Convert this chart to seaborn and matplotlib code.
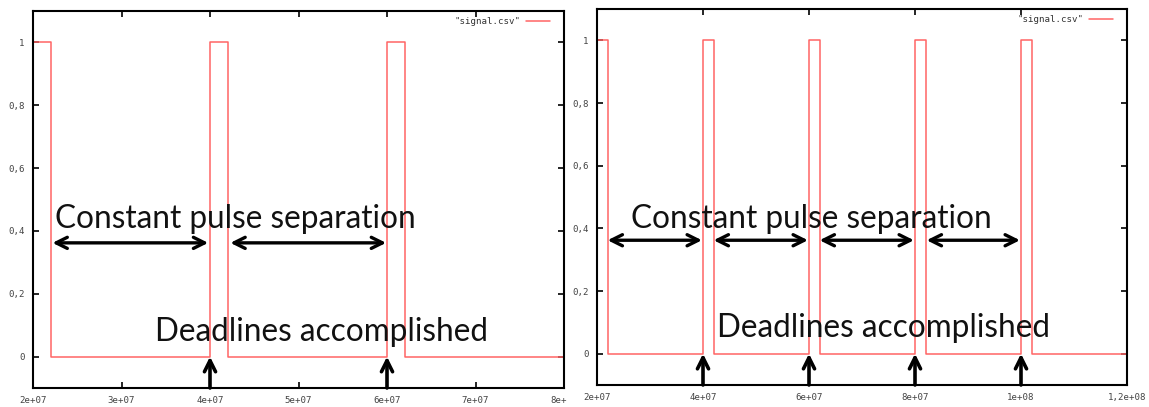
import numpy as np
import pandas as pd
import matplotlib
matplotlib.use("Agg")
import matplotlib.pyplot as plt
from matplotlib.transforms import Bbox, TransformedBbox
import seaborn as sns

# ---- data ----
left_t = [2e7, 2.2e7, 4e7, 4.2e7, 6e7, 6.2e7, 8e7]
left_v = [1, 0, 1, 0, 1, 0, 0]
right_t = [2e7, 2.2e7, 4e7, 4.2e7, 6e7, 6.2e7, 8e7, 8.2e7, 1e8, 1.02e8, 1.2e8]
right_v = [1, 0, 1, 0, 1, 0, 1, 0, 1, 0, 0]

left_xticks = [2e7, 3e7, 4e7, 5e7, 6e7, 7e7, 8e7]
left_xlabels = ["2e+07", "3e+07", "4e+07", "5e+07", "6e+07", "7e+07", "8e+07"]
right_xticks = [2e7, 4e7, 6e7, 8e7, 1e8, 1.2e8]
right_xlabels = ["2e+07", "4e+07", "6e+07", "8e+07", "1e+08", "1,2e+08"]
yticks = [0, 0.2, 0.4, 0.6, 0.8, 1.0]
ylabels = ["0", "0,2", "0,4", "0,6", "0,8", "1"]

left_deadlines = [4e7, 6e7]
right_deadlines = [4e7, 6e7, 8e7, 1e8]
left_gaps = [(2.22e7, 3.98e7), (4.23e7, 5.99e7)]
right_gaps = [(2.2e7, 3.98e7), (4.2e7, 5.98e7), (6.2e7, 7.98e7), (8.22e7, 9.98e7)]

legend_label = '"signal.csv"'
text_sep = "Constant pulse separation"
text_dead = "Deadlines accomplished"

sns.set_theme(style="ticks")
plt.rcParams["font.family"] = ["Lato", "DejaVu Sans"]

W, H = 1149, 407
fig = plt.figure(figsize=(W / 100, H / 100), dpi=100)

def px_axes(l, t, r, b):
    return fig.add_axes([l / W, 1 - b / H, (r - l) / W, (b - t) / H])

ax1 = px_axes(33, 11, 564, 388)
ax2 = px_axes(597, 9, 1127, 385)

red = "#ff6464"
mono = dict(family="DejaVu Sans Mono", size=6.6)

panels = [
    (ax1, left_t, left_v, left_xticks, left_xlabels, left_deadlines, left_gaps,
     (2.25e7, 0.41), (3.38e7, 0.05)),
    (ax2, right_t, right_v, right_xticks, right_xlabels, right_deadlines, right_gaps,
     (2.64e7, 0.40), (4.27e7, 0.054)),
]

for ax, t, v, xt, xl, dl, gaps, sep_pos, dead_pos in panels:
    df = pd.DataFrame({"t": t, "v": v})
    sns.lineplot(data=df, x="t", y="v", ax=ax, color=red, lw=1.1,
                 drawstyle="steps-post", label=legend_label, estimator=None)
    ax.set_xlim(xt[0], xt[-1])
    ax.set_ylim(-0.1, 1.1)
    ax.set_xticks(xt)
    ax.set_xticklabels(xl, fontdict=mono, color="#444444")
    ax.set_yticks(yticks)
    ax.set_yticklabels(ylabels, fontdict=mono, color="#444444")
    ax.set_xlabel("")
    ax.set_ylabel("")
    ax.tick_params(direction="in", length=4, width=1.2, top=True, right=True,
                   color="black", pad=6)
    for s in ax.spines.values():
        s.set_visible(True)
        s.set_linewidth(1.5)
        s.set_color("black")
    leg = ax.legend(loc="upper right", bbox_to_anchor=(0.985, 1.0),
                    frameon=False, markerfirst=False,
                    prop=mono, handlelength=2.6, borderaxespad=0.3,
                    handletextpad=0.6)
    for txt in leg.get_texts():
        txt.set_color("#333333")
    # annotations
    for a, b in gaps:
        ax.annotate("", xy=(b, 0.362), xytext=(a, 0.362),
                    arrowprops=dict(arrowstyle="<->", lw=2.4, color="black",
                                    mutation_scale=20, shrinkA=0, shrinkB=0))
    for d in dl:
        ax.annotate("", xy=(d, 0.0), xytext=(d, -0.1),
                    arrowprops=dict(arrowstyle="->", lw=2.6, color="black",
                                    mutation_scale=20, shrinkA=0, shrinkB=0))
    ax.text(sep_pos[0], sep_pos[1], text_sep, fontsize=22.7, color="#111111",
            ha="left", va="baseline")
    ax.text(dead_pos[0], dead_pos[1], text_dead, fontsize=22.7, color="#111111",
            ha="left", va="baseline")

# clip left panel's last tick label like the cropped screenshot
clip = TransformedBbox(Bbox([[0, 0], [567 / W, 1]]), fig.transFigure)
for lab in ax1.get_xticklabels():
    lab.set_clip_on(True)
    lab.set_clip_box(clip)

fig.savefig("out.png", dpi=100)
